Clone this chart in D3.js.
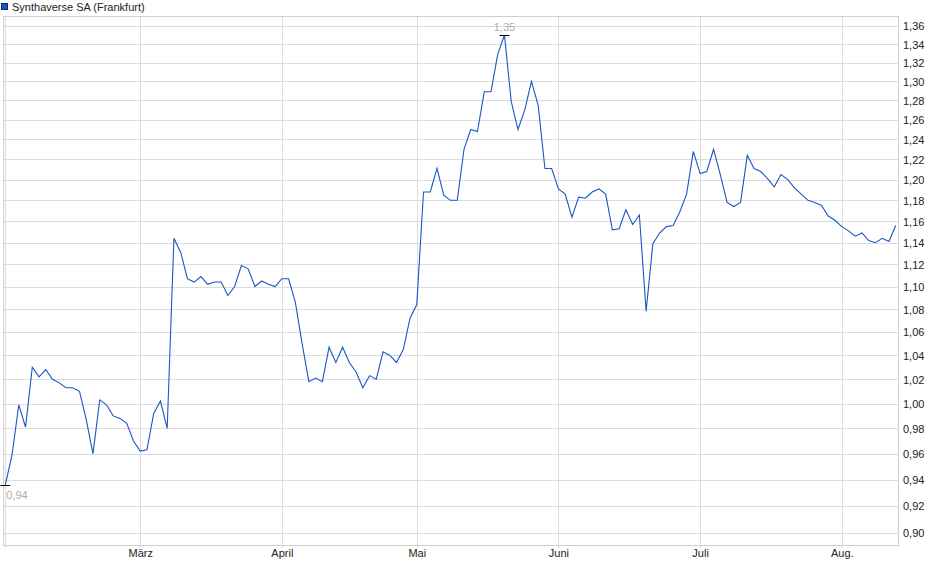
<!DOCTYPE html>
<html>
<head>
<meta charset="utf-8">
<script src="https://cdn.jsdelivr.net/npm/d3@7"></script>
<style>
  body { margin: 0; background: #fff; }
  svg { font-family: "Liberation Sans", Arial, sans-serif; }
  .grid line { stroke: #dcdcdc; shape-rendering: crispEdges; }
  .axis text { font-size: 11px; fill: #222; }
  .axis .domain { display: none; }
</style>
</head>
<body>
<svg id="chart" width="940" height="579"></svg>
<script>
// chart data (daily closing prices, Frankfurt)
const title = 'Synthaverse SA (Frankfurt)';
const prices = [
  0.936, 0.959, 0.999, 0.981, 1.030, 1.022, 1.028, 1.020, 1.017, 1.013,
  1.013, 1.010, 0.987, 0.960, 1.003, 0.999, 0.990, 0.988, 0.984, 0.970,
  0.962, 0.963, 0.992, 1.002, 0.980, 1.144, 1.131, 1.107, 1.104, 1.109,
  1.102, 1.104, 1.104, 1.092, 1.100, 1.119, 1.116, 1.100, 1.105, 1.102,
  1.100, 1.107, 1.107, 1.086, 1.050, 1.018, 1.021, 1.018, 1.047, 1.034,
  1.047, 1.034, 1.026, 1.013, 1.023, 1.020, 1.043, 1.040, 1.034, 1.045,
  1.072, 1.084, 1.188, 1.188, 1.211, 1.185, 1.180, 1.180, 1.230, 1.250,
  1.248, 1.289, 1.289, 1.329, 1.350, 1.279, 1.250, 1.270, 1.300, 1.275,
  1.211, 1.211, 1.191, 1.186, 1.164, 1.183, 1.182, 1.188, 1.191, 1.186,
  1.152, 1.153, 1.171, 1.157, 1.166, 1.078, 1.139, 1.149, 1.155, 1.156,
  1.169, 1.186, 1.228, 1.206, 1.208, 1.230, 1.205, 1.178, 1.174, 1.178,
  1.224, 1.211, 1.208, 1.201, 1.193, 1.205, 1.200, 1.192, 1.186, 1.180,
  1.178, 1.175, 1.165, 1.161, 1.155, 1.151, 1.146, 1.149, 1.142, 1.140,
  1.144, 1.141, 1.156
];
const monthLabels = ['', 'März', 'April', 'Mai', 'Juni', 'Juli', 'Aug.'];
const monthIdx = [0, 20, 41, 61, 82, 103, 124];
const yTicks = [0.90, 0.92, 0.94, 0.96, 0.98, 1.00, 1.02, 1.04, 1.06, 1.08, 1.10,
  1.12, 1.14, 1.16, 1.18, 1.20, 1.22, 1.24, 1.26, 1.28, 1.30, 1.32, 1.34, 1.36];

const lineColor = '#1a56c4';
const plot = {left: 3, right: 898, top: 16, bottom: 545};

const de = d3.formatLocale({decimal: ',', thousands: '.', grouping: [3], currency: ['', ' €']});
const fmt = de.format('.2f');

const svg = d3.select('#chart');

// scales
const x = d3.scaleLinear()
  .domain([0, prices.length - 1])
  .range([5.3, 895.7]);

const y = d3.scaleLog()
  .domain([0.8912, 1.3711])
  .range([plot.bottom, plot.top]);

// legend
svg.append('rect')
  .attr('x', 1.5).attr('y', 3.5)
  .attr('width', 6).attr('height', 6)
  .attr('fill', lineColor)
  .attr('stroke', '#0b2c6a');
svg.append('text')
  .attr('x', 12).attr('y', 11)
  .attr('font-size', 11)
  .attr('fill', '#222')
  .text(title);

// grids
const grid = svg.append('g').attr('class', 'grid');
grid.selectAll('.hy')
  .data(yTicks)
  .join('line')
  .attr('x1', plot.left).attr('x2', plot.right)
  .attr('y1', d => Math.round(y(d)) + 0.5)
  .attr('y2', d => Math.round(y(d)) + 0.5);
grid.selectAll('.vx')
  .data(monthIdx)
  .enter().append('line')
  .attr('x1', d => Math.round(x(d)) + 0.5)
  .attr('x2', d => Math.round(x(d)) + 0.5)
  .attr('y1', plot.top).attr('y2', plot.bottom + 3);

// frame
svg.append('rect')
  .attr('x', plot.left + 0.5).attr('y', plot.top + 0.5)
  .attr('width', plot.right - plot.left).attr('height', plot.bottom - plot.top)
  .attr('fill', 'none')
  .attr('stroke', '#d0d0d0')
  .attr('shape-rendering', 'crispEdges');

// axes
svg.append('g')
  .attr('class', 'axis')
  .attr('transform', `translate(${plot.right}, 0)`)
  .call(d3.axisRight(y)
    .tickValues(yTicks)
    .tickSize(0)
    .tickPadding(5)
    .tickFormat(fmt))
  .selectAll('text')
    .attr('dy', '0.36em');

svg.append('g')
  .attr('class', 'axis')
  .attr('transform', `translate(0, ${plot.bottom})`)
  .call(d3.axisBottom(x)
    .tickValues(monthIdx)
    .tickSize(0)
    .tickPadding(4)
    .tickFormat((d, i) => monthLabels[i]));

// price line
const line = d3.line()
  .x((d, i) => x(i))
  .y(d => y(d));

svg.append('path')
  .datum(prices)
  .attr('fill', 'none')
  .attr('stroke', lineColor)
  .attr('stroke-width', 1.1)
  .attr('d', line);

// min / max markers
const iMax = d3.maxIndex(prices);
const iMin = d3.minIndex(prices);
const markColor = '#b5aa9c';

[[iMax, 'max'], [iMin, 'min']].forEach(([i, kind]) => {
  const px = x(i), py = Math.round(y(prices[i])) + 0.5;
  svg.append('line')
    .attr('x1', Math.max(px - 5, 0)).attr('x2', px + 5)
    .attr('y1', py).attr('y2', py)
    .attr('stroke', '#000')
    .attr('stroke-width', 1);
  svg.append('text')
    .attr('x', kind === 'max' ? px : px + 1)
    .attr('y', kind === 'max' ? py - 5 : py + 13)
    .attr('text-anchor', kind === 'max' ? 'middle' : 'start')
    .attr('font-size', 11)
    .attr('fill', markColor)
    .text(fmt(prices[i]));
});
</script>
</body>
</html>
